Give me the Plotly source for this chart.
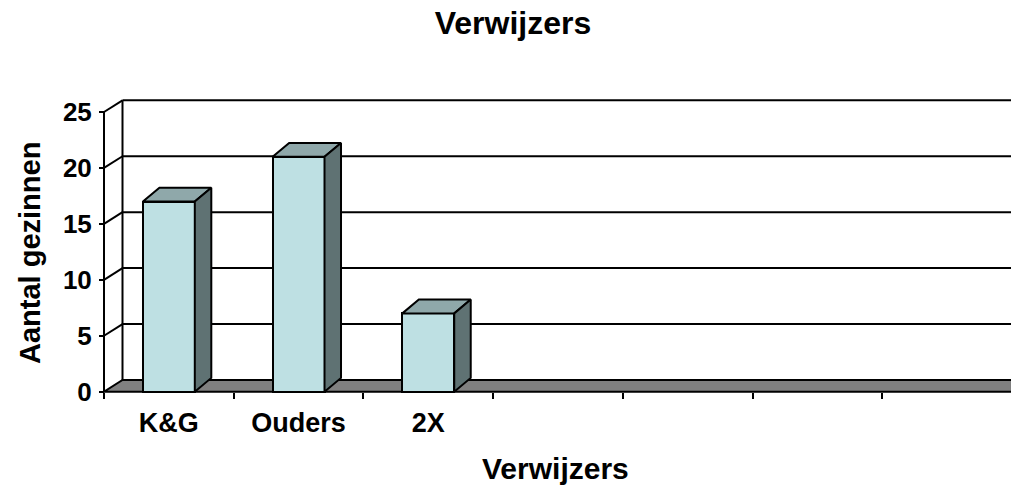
import plotly.graph_objects as go

# ---- data ----
categories = ["K&G", "Ouders", "2X", "", "", "", ""]
values = [17, 21, 7]
y_ticks = [0, 5, 10, 15, 20, 25]

# ---- geometry (page pixels; the page body has an 8px margin) ----
OFF = 8
W, H = 1019 - OFF, 485 - OFF


def P(v):
    return v - OFF


PL, PR, PT, PB = P(96), P(1019), P(94), P(397)   # plot area in fig px
X0PX, SLOT = P(104.0), 908.0 / 7                 # front axis px, slot width px
Y0PX, UNIT = P(391.7), (391.7 - 112.0) / 25      # y=0 px, px per unit


def xu(px):
    return -0.5 + (px - X0PX) / SLOT


def yu(py):
    return (Y0PX - py) / UNIT


x_range = [xu(PL), xu(PR)]
y_range = [yu(PB), yu(PT)]

# depth offsets
DXW, DYW = 18.5 / SLOT, 11.7 / UNIT   # walls / floor
DXB, DYB = 16.5 / SLOT, 13.8 / UNIT   # bars
BW = 0.4

FRONT = "#BEE0E3"
TOP = "#8FA8AA"
SIDE = "#5F7273"
FLOOR = "#808080"
LW = 2

fig = go.Figure()

shapes = []
xb = -0.5 + DXW
# back wall gridlines
for v in y_ticks[1:]:
    shapes.append(dict(type="line", xref="x", yref="y", x0=xb, y0=v + DYW,
                       x1=x_range[1] + 1, y1=v + DYW,
                       line=dict(color="black", width=LW), layer="below"))
# back wall left edge
shapes.append(dict(type="line", xref="x", yref="y", x0=xb, y0=DYW, x1=xb,
                   y1=25 + DYW, line=dict(color="black", width=LW), layer="below"))
# side wall diagonals
for v in y_ticks[1:]:
    shapes.append(dict(type="line", xref="x", yref="y", x0=-0.5, y0=v, x1=xb,
                       y1=v + DYW, line=dict(color="black", width=LW), layer="below"))
# floor
fx1 = 6.5
shapes.append(dict(type="path", xref="x", yref="y",
                   path=f"M {-0.5} 0 L {fx1} 0 L {fx1 + DXW} {DYW} L {xb} {DYW} Z",
                   fillcolor=FLOOR, line=dict(color="black", width=LW), layer="below"))
# front vertical axis line
shapes.append(dict(type="line", xref="x", yref="y", x0=-0.5, y0=0, x1=-0.5, y1=25,
                   line=dict(color="black", width=LW), layer="below"))

# front faces
fig.add_trace(go.Bar(x=list(range(len(values))), y=values, width=BW,
                     marker=dict(color=FRONT, line=dict(color="black", width=LW)),
                     hoverinfo="skip", showlegend=False))

# top and side faces
for i, v in enumerate(values):
    l, r = i - BW / 2, i + BW / 2
    fig.add_trace(go.Scatter(
        x=[l, r, r + DXB, l + DXB, l], y=[v, v, v + DYB, v + DYB, v],
        mode="lines", fill="toself", fillcolor=TOP,
        line=dict(color="black", width=LW), hoverinfo="skip", showlegend=False))
    fig.add_trace(go.Scatter(
        x=[r, r + DXB, r + DXB, r, r], y=[0, DYB, v + DYB, v, 0],
        mode="lines", fill="toself", fillcolor=SIDE,
        line=dict(color="black", width=LW), hoverinfo="skip", showlegend=False))

font_b = dict(family="Liberation Sans", color="black", weight="bold")


def px_to_paper_x(px):
    return (P(px) - PL) / (PR - PL)


def py_to_paper_y(py):
    return (PB - P(py)) / (PB - PT)


fig.update_layout(
    width=W, height=H,
    margin=dict(l=PL, r=W - PR, t=PT, b=H - PB, pad=0),
    paper_bgcolor="white", plot_bgcolor="white",
    bargap=0,
    title=dict(text="Verwijzers", x=P(513) / W, y=1 - P(23) / H, xref="container",
               yref="container", xanchor="center", yanchor="middle",
               font=dict(size=32, **font_b)),
    xaxis=dict(range=x_range, showgrid=False, zeroline=False, showline=False,
               tickmode="array", tickvals=list(range(len(categories))),
               ticktext=categories, ticks="",
               tickfont=dict(size=27, **font_b),
               anchor="free", position=(PB - Y0PX) / (PB - PT),
               ticklabelstandoff=12,
               minor=dict(tickmode="array",
                          tickvals=[i - 0.5 for i in range(len(categories) + 1)],
                          ticks="outside", ticklen=6, tickwidth=LW,
                          tickcolor="black", showgrid=False)),
    yaxis=dict(range=y_range, showgrid=False, zeroline=False, showline=False,
               tickmode="array", tickvals=y_ticks,
               ticks="outside", ticklen=5, tickwidth=LW, tickcolor="black",
               tickfont=dict(size=26, **font_b),
               anchor="free", position=(X0PX - PL) / (PR - PL),
               ticklabelstandoff=2),
    annotations=[
        dict(text="Verwijzers", xref="paper", yref="paper",
             x=px_to_paper_x(555), y=py_to_paper_y(468), xanchor="center",
             yanchor="middle", showarrow=False, font=dict(size=30, **font_b)),
        dict(text="Aantal gezinnen", xref="paper", yref="paper",
             x=px_to_paper_x(30), y=py_to_paper_y(253), xanchor="center",
             yanchor="middle", textangle=-90, showarrow=False,
             font=dict(size=29, **font_b)),
    ],
    shapes=shapes,
)

fig.write_html("out.html")
